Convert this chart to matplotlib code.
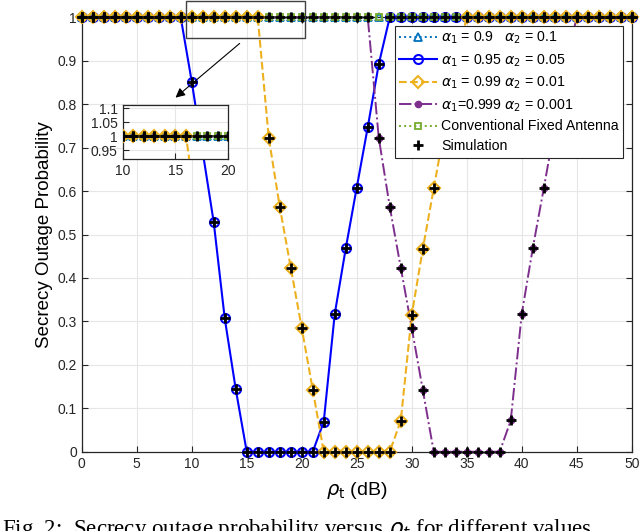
import numpy as np
import matplotlib
matplotlib.use("Agg")
import matplotlib.pyplot as plt
from matplotlib.patches import Rectangle

plt.rcParams['font.family'] = ['Liberation Sans', 'DejaVu Sans']
plt.rcParams['mathtext.fontset'] = 'dejavusans'

# data
rho = list(range(0, 51))
p_a90 = [1.0] * 51
p_a95 = [1, 1, 1, 1, 1, 1, 1, 1, 1, 1,
         0.852, 0.69, 0.528, 0.307, 0.144, 0, 0, 0, 0, 0,
         0, 0, 0.069, 0.317, 0.468, 0.608, 0.747, 0.892, 1, 1,
         1, 1, 1, 1, 1, 1, 1, 1, 1, 1,
         1, 1, 1, 1, 1, 1, 1, 1, 1, 1, 1]
p_a99 = [1, 1, 1, 1, 1, 1, 1, 1, 1, 1,
         1, 1, 1, 1, 1, 1, 1, 0.723, 0.564, 0.424,
         0.285, 0.143, 0, 0, 0, 0, 0, 0, 0, 0.071,
         0.315, 0.466, 0.606, 0.747, 0.892, 1, 1, 1, 1, 1,
         1, 1, 1, 1, 1, 1, 1, 1, 1, 1, 1]
p_a999 = [1, 1, 1, 1, 1, 1, 1, 1, 1, 1,
          1, 1, 1, 1, 1, 1, 1, 1, 1, 1,
          1, 1, 1, 1, 1, 1, 1, 0.723, 0.564, 0.424,
          0.285, 0.143, 0, 0, 0, 0, 0, 0, 0, 0.072,
          0.317, 0.468, 0.606, 0.747, 0.892, 1, 1, 1, 1, 1, 1]
p_fixed = [1.0] * 51

labels = [r'$\alpha_1$ = 0.9   $\alpha_2$ = 0.1',
          r'$\alpha_1$ = 0.95 $\alpha_2$ = 0.05',
          r'$\alpha_1$ = 0.99 $\alpha_2$ = 0.01',
          r'$\alpha_1$=0.999 $\alpha_2$ = 0.001',
          'Conventional Fixed Antenna',
          'Simulation']

c90 = (0, 0.447, 0.741)
c95 = (0, 0, 1)
c99 = (0.929, 0.694, 0.125)
c999 = (0.494, 0.184, 0.556)
cfix = (0.466, 0.674, 0.188)
axcol = '#262626'


def draw(ax, clip):
    hs = []
    hs.append(ax.plot(rho, p_a90, ':', color=c90, lw=1.4, marker='^', ms=6,
                      mfc='none', mew=1.3, zorder=3, clip_on=clip)[0])
    hs.append(ax.plot(rho, p_a95, '-', color=c95, lw=1.5, marker='o', ms=6.5,
                      mfc='none', mew=1.5, zorder=4, clip_on=clip)[0])
    hs.append(ax.plot(rho, p_a99, '--', color=c99, lw=1.5, marker='D', ms=6,
                      mfc='none', mew=1.5, zorder=6, clip_on=clip)[0])
    hs.append(ax.plot(rho, p_a999, '-.', color=c999, lw=1.4, marker='o', ms=4.5,
                      mfc=c999, mew=1, zorder=5, clip_on=clip)[0])
    hs.append(ax.plot(rho, p_fixed, ':', color=cfix, lw=1.4, marker='s', ms=5,
                      mfc='none', mew=1.3, zorder=5, clip_on=clip)[0])
    for p in (p_a95, p_a99, p_a999):
        h = ax.plot(rho, p, '+', color='k', ms=7.5, mew=2, zorder=7,
                    clip_on=clip)[0]
    hs.append(h)
    return hs


def style(ax, fs):
    ax.grid(True, color='#e6e6e6', lw=0.8)
    ax.set_axisbelow(True)
    for s in ax.spines.values():
        s.set_color(axcol)
        s.set_linewidth(0.9)
    ax.tick_params(direction='in', colors=axcol, labelsize=fs, length=4,
                   top=True, right=True, width=0.8)


fig = plt.figure(figsize=(6.4, 5.31), dpi=100)
ax = fig.add_axes([0.1277, 0.1493, 0.8594, 0.8181])
handles = draw(ax, False)
style(ax, 10)
ax.set_xlim(0, 50)
ax.set_ylim(0, 1)
ax.set_xticks(np.arange(0, 51, 5))
ax.set_yticks(np.arange(0, 1.01, 0.1))
ax.set_yticklabels(['0', '0.1', '0.2', '0.3', '0.4', '0.5', '0.6', '0.7',
                    '0.8', '0.9', '1'])
ax.set_xlabel(r'$\rho_{\rm t}$ (dB)', fontsize=14, labelpad=7)
ax.set_ylabel('Secrecy Outage Probability', fontsize=13.5, labelpad=3)

leg = ax.legend(handles, labels, loc='upper right', fontsize=10.2,
                handlelength=2.7, handletextpad=0.3, labelspacing=0.42,
                borderaxespad=0.6, borderpad=0.3, fancybox=False,
                framealpha=1, edgecolor=axcol)
leg.get_frame().set_linewidth(0.8)
leg.set_zorder(10)

# zoom rectangle and arrow
ax.add_patch(Rectangle((9.45, 0.952), 10.88, 0.086, fill=False,
                       ec='#404040', lw=1, clip_on=False, zorder=8))
ax.annotate('', xy=(8.33, 0.811), xytext=(14.55, 0.944),
            arrowprops=dict(arrowstyle='-|>', color='k', lw=0.8,
                            mutation_scale=14), zorder=9)

# inset
axin = fig.add_axes([0.1917, 0.700, 0.165, 0.1023])
draw(axin, True)
style(axin, 10)
axin.set_xlim(10, 20)
axin.set_ylim(0.917, 1.111)
axin.set_xticks([10, 15, 20])
axin.set_yticks([0.95, 1, 1.05, 1.1])
axin.set_yticklabels(['0.95', '1', '1.05', '1.1'])
axin.tick_params(top=False, right=False)

fig.text(0.003, 0.027, r'Fig. 2:  Secrecy outage probability versus $\rho_t$ for different values',
         fontsize=16.5, family='Liberation Serif', va='top', ha='left')

fig.savefig('out.png', dpi=100)
